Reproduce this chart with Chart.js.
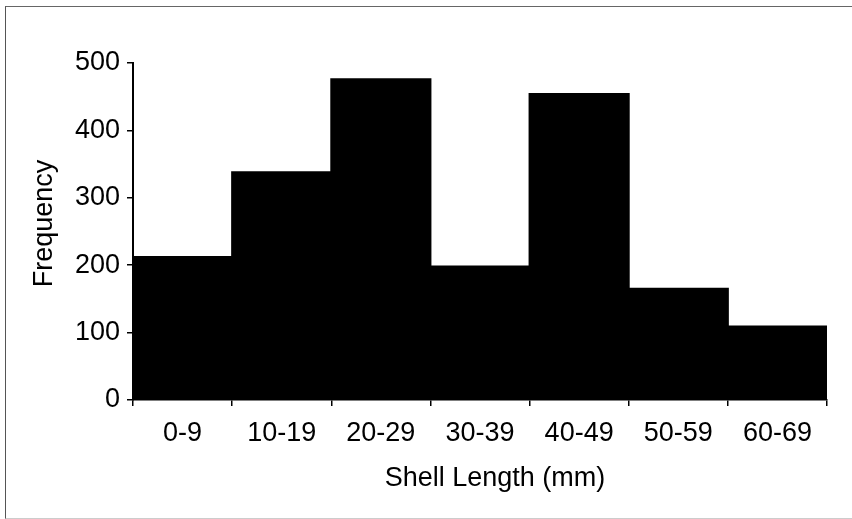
<!DOCTYPE html>
<html>
<head>
<meta charset="utf-8">
<script src="https://cdn.jsdelivr.net/npm/chart.js@4"></script>
<style>
  html, body { margin: 0; padding: 0; background: #fff; }
  #wrap { position: relative; width: 852px; height: 519px; overflow: hidden; }
  #frame { position: absolute; left: 5px; top: 6px; right: -10px; bottom: 0px;
           border-left: 1px solid #555; border-top: 1px solid #666; border-bottom: 1px solid #ccc; }
  canvas { position: absolute; left: 0; top: 0; }
</style>
</head>
<body>
<div id="wrap">
  <div id="frame"></div>
  <canvas id="c" width="852" height="519"></canvas>
</div>
<script>
const categories = ["0-9", "10-19", "20-29", "30-39", "40-49", "50-59", "60-69"];
const frequency = [212, 338, 476, 198, 454, 165, 109];
const yTicks = [0, 100, 200, 300, 400, 500];
const xTitle = "Shell Length (mm)";
const yTitle = "Frequency";

const FONT = "'Liberation Sans', Arial, Helvetica, sans-serif";
const FS = 27;

// Axis titles drawn slightly off-centre, as in the original figure
const axisTitles = {
  id: 'axisTitles',
  afterDraw(chart) {
    const { ctx, chartArea: ca } = chart;
    ctx.save();
    ctx.fillStyle = '#000';
    ctx.font = FS + 'px ' + FONT;
    ctx.textAlign = 'center';
    ctx.textBaseline = 'middle';
    ctx.fillText(xTitle, (ca.left + ca.right) / 2 + 15, 479);
    ctx.translate(45, (ca.top + ca.bottom) / 2 - 8);
    ctx.rotate(-Math.PI / 2);
    ctx.fillText(yTitle, 0, 0);
    ctx.restore();
  }
};

new Chart(document.getElementById('c'), {
  type: 'bar',
  data: {
    labels: categories,
    datasets: [{
      data: frequency,
      backgroundColor: '#000',
      borderWidth: 0,
      inflateAmount: 1,
      barPercentage: 1.0,
      categoryPercentage: 1.0
    }]
  },
  plugins: [axisTitles],
  options: {
    responsive: false,
    animation: false,
    devicePixelRatio: 1,
    layout: { padding: { left: 0, top: 63, right: 25, bottom: 0 } },
    plugins: { legend: { display: false }, tooltip: { enabled: false }, title: { display: false } },
    scales: {
      x: {
        offset: true,
        grid: { display: true, drawOnChartArea: false, offset: true, tickLength: 6, color: '#000', lineWidth: 1.5 },
        border: { display: true, color: '#000', width: 1.5 },
        ticks: { color: '#000', font: { family: FONT, size: FS }, padding: 11, maxRotation: 0 },
        title: { display: false },
        afterFit: (s) => { s.height = 119; }
      },
      y: {
        min: 0, max: 500,
        afterBuildTicks: (s) => { s.ticks = yTicks.map(v => ({ value: v })); },
        grid: { display: true, drawOnChartArea: false, tickLength: 6, color: '#000', lineWidth: 1.5 },
        border: { display: true, color: '#000', width: 2 },
        ticks: { color: '#000', font: { family: FONT, size: FS }, padding: 7 },
        title: { display: false },
        afterFit: (s) => { s.width = 133; }
      }
    }
  }
});
</script>
</body>
</html>
